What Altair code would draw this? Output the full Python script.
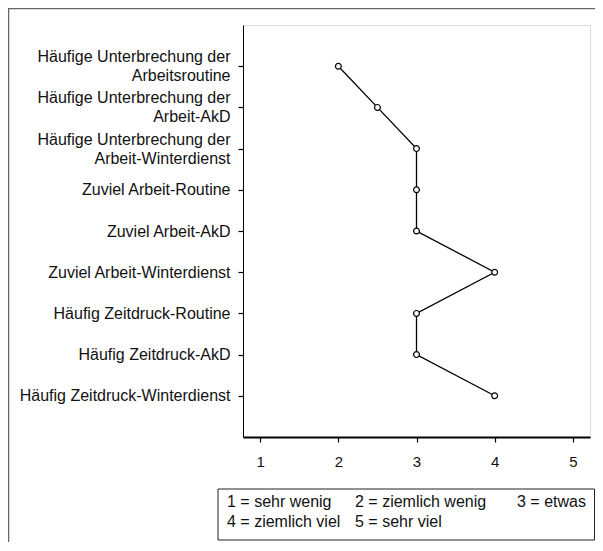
import altair as alt
import pandas as pd

items = [
    "Häufige Unterbrechung der\nArbeitsroutine",
    "Häufige Unterbrechung der\nArbeit-AkD",
    "Häufige Unterbrechung der\nArbeit-Winterdienst",
    "Zuviel Arbeit-Routine",
    "Zuviel Arbeit-AkD",
    "Zuviel Arbeit-Winterdienst",
    "Häufig Zeitdruck-Routine",
    "Häufig Zeitdruck-AkD",
    "Häufig Zeitdruck-Winterdienst",
]
means = [2, 2.5, 3, 3, 3, 4, 3, 3, 4]
x_ticks = [1, 2, 3, 4, 5]
legend_labels = ["1 = sehr wenig", "2 = ziemlich wenig", "3 = etwas",
                 "4 = ziemlich viel", "5 = sehr viel"]

df = pd.DataFrame({"item": items, "mean": means, "idx": list(range(len(items)))})
leg = pd.DataFrame({
    "label": legend_labels,
    "col": [i % 3 for i in range(len(legend_labels))],
    "row": [i // 3 for i in range(len(legend_labels))],
})

FONT = "Liberation Sans"
W, H = 347, 412

x_enc = alt.X("mean:Q",
              scale=alt.Scale(domain=[0.78, 5.22], nice=False, zero=False),
              axis=alt.Axis(values=x_ticks, title=None, grid=False, domainColor="black",
                            domainWidth=2, tickColor="black", tickSize=5, tickWidth=1.2,
                            labelFontSize=15, labelPadding=12, labelColor="#111",
                            labelFont=FONT, format="d"))
y_enc = alt.Y("item:N", sort=items,
              scale=alt.Scale(type="point", padding=1),
              axis=alt.Axis(title=None, grid=False, domainColor="black", domainWidth=1,
                            tickColor="black", tickSize=5, tickWidth=1.2,
                            labelFontSize=16, labelPadding=8, labelColor="#111",
                            labelFont=FONT, labelAlign="right", labelBaseline="middle",
                            labelLineHeight=19, labelLimit=400,
                            labelOffset=alt.ConditionalAxisNumber(
                                condition={"test": "indexof(datum.value, '\\n') >= 0",
                                           "value": -9.5},
                                value=0),
                            labelExpr="split(datum.label, '\\n')"))

base = alt.Chart(df)
line = base.mark_line(color="black", strokeWidth=1.3).encode(
    x=x_enc, y=y_enc, order=alt.Order("idx:Q"))
pts = base.mark_point(shape="circle", size=34, filled=True, fill="white",
                      stroke="black", strokeWidth=1.2, opacity=1).encode(
    x=alt.X("mean:Q"), y=alt.Y("item:N", sort=items))
main = alt.layer(line, pts)

legend_text = alt.Chart(leg).mark_text(align="left", baseline="middle", fontSize=16,
                                       font=FONT, color="#111").encode(
    x=alt.X("col:Q", scale=alt.Scale(domain=[0, 1, 2], range=[-16, 112, 274]), axis=None),
    y=alt.Y("row:Q", scale=alt.Scale(domain=[0, 1], range=[477, 497]), axis=None),
    text="label:N")

one = alt.Chart(pd.DataFrame({"k": [0]}))
legend_box = one.mark_rect(filled=False, stroke="#222", strokeWidth=1).encode(
    x=alt.value(-25), x2=alt.value(351.5), y=alt.value(464), y2=alt.value(515))
frame_left = one.mark_rule(color="#666", strokeWidth=1.5).encode(
    x=alt.value(-234.5), y=alt.value(-17), y2=alt.value(517))
frame_top = one.mark_rule(color="#666", strokeWidth=1.5).encode(
    x=alt.value(-235), x2=alt.value(352), y=alt.value(-16.5))

deco = alt.layer(legend_box, frame_left, frame_top, legend_text)

chart = alt.layer(main, deco).resolve_scale(x="independent", y="independent").properties(
    width=W, height=H,
    autosize=alt.AutoSizeParams(type="none"),
    padding={"left": 235, "top": 17, "right": 5, "bottom": 105},
).configure_view(stroke="#444", strokeWidth=1).configure(font=FONT)

chart.save("out.html", embed_options={"renderer": "svg", "actions": False})
